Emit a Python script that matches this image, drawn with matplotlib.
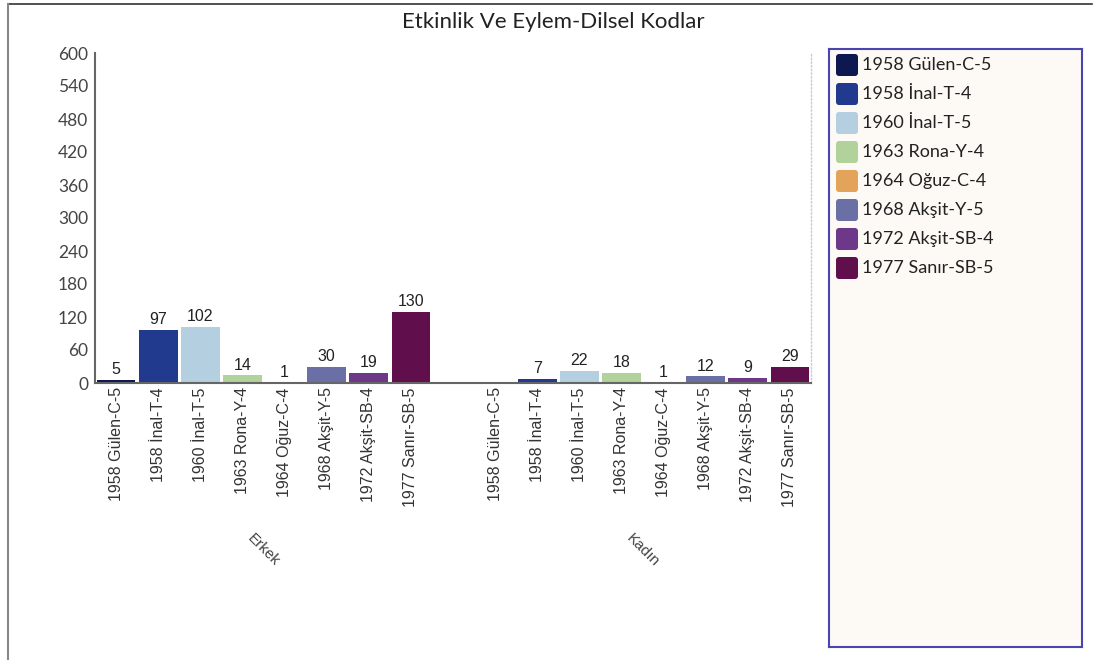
import matplotlib

matplotlib.use("Agg")
import matplotlib.pyplot as plt
from matplotlib.lines import Line2D
from matplotlib.patches import FancyBboxPatch
from matplotlib.transforms import blended_transform_factory

TITLE = "Etkinlik Ve Eylem-Dilsel Kodlar"
groups = ["Erkek", "Kadın"]
series = [
    "1958 Gülen-C-5",
    "1958 İnal-T-4",
    "1960 İnal-T-5",
    "1963 Rona-Y-4",
    "1964 Oğuz-C-4",
    "1968 Akşit-Y-5",
    "1972 Akşit-SB-4",
    "1977 Sanır-SB-5",
]
erkek_values = [5, 97, 102, 14, 1, 30, 19, 130]
kadin_values = [0, 7, 22, 18, 1, 12, 9, 29]
colors = ["#0e1850", "#213a8e", "#b4cfdf", "#b2d29b", "#e3a35a", "#6a6fa6", "#6d3889", "#610e4d"]
y_ticks = [0, 60, 120, 180, 240, 300, 360, 420, 480, 540, 600]

plt.rcParams["font.family"] = ["Lato", "DejaVu Sans"]

fig = plt.figure(figsize=(10.94, 6.6), dpi=100)
ax = fig.add_axes([95 / 1094, 1 - 383 / 660, (811 - 95) / 1094, (383 - 53) / 660])
group_tr = blended_transform_factory(ax.transData, ax.transAxes)

n = len(series)
label_font = ["Liberation Sans Narrow", "Liberation Sans", "DejaVu Sans"]
tick_pos, tick_lab = [], []
for g, vals in enumerate([erkek_values, kadin_values]):
    offset = g * (n + 1)
    for i, v in enumerate(vals):
        x = offset + i + 0.5
        tick_pos.append(x)
        tick_lab.append(series[i])
        if v > 0:
            ax.bar(x, v, width=0.92, color=colors[i], linewidth=0)
            ax.text(x, v + 5, str(v), ha="center", va="bottom", fontsize=11.5,
                    color="#222222", family=["Liberation Sans", "DejaVu Sans"])
    ax.text(offset + n / 2, -0.506, groups[g], transform=group_tr, ha="center", va="center",
            rotation=-45, fontsize=11, color="#444444", family=["Liberation Sans", "DejaVu Sans"])

ax.set_xlim(0, 2 * n + 1)
ax.set_ylim(0, 600)
ax.set_yticks(y_ticks)
ax.set_xticks(tick_pos)
ax.set_xticklabels(tick_lab, rotation=90, fontsize=11.5, color="#333333", family=label_font)
ax.tick_params(axis="both", length=0)
ax.tick_params(axis="y", labelsize=12.5, labelcolor="#444444", pad=5)
ax.tick_params(axis="x", pad=3)
ax.spines["top"].set_visible(False)
ax.spines["left"].set_color("#666666")
ax.spines["left"].set_linewidth(1.5)
ax.spines["bottom"].set_color("#666666")
ax.spines["bottom"].set_linewidth(1.5)
ax.spines["right"].set_color("#cccccc")
ax.spines["right"].set_linestyle(":")
ax.spines["right"].set_linewidth(1)

fig.text(553 / 1094, 1 - 22 / 660, TITLE, ha="center", va="center", fontsize=16, color="#222222")

# outer frame lines
fig.add_artist(Line2D([8 / 1094, 1092 / 1094], [1 - 4 / 660, 1 - 4 / 660], color="#333333", linewidth=1.2))
fig.add_artist(Line2D([8 / 1094, 8 / 1094], [0, 1 - 4 / 660], color="#888888", linewidth=1.5))

# legend panel
lax = fig.add_axes([829 / 1094, 1 - 647 / 660, (1082 - 829) / 1094, (647 - 49) / 660])
lax.set_xlim(0, 253)
lax.set_ylim(598, 0)
lax.set_facecolor("#fdfaf5")
for s in lax.spines.values():
    s.set_color("#4a44b0")
    s.set_linewidth(1.5)
lax.set_xticks([])
lax.set_yticks([])
for i, name in enumerate(series):
    cy = 16 + i * 29
    lax.add_patch(FancyBboxPatch((7, cy - 11), 22, 22, boxstyle="round,pad=0,rounding_size=3",
                                 facecolor=colors[i], edgecolor="none"))
    lax.text(33, cy, name, ha="left", va="center", fontsize=13, color="#222222")

fig.savefig("out.png", dpi=100, facecolor="white")
